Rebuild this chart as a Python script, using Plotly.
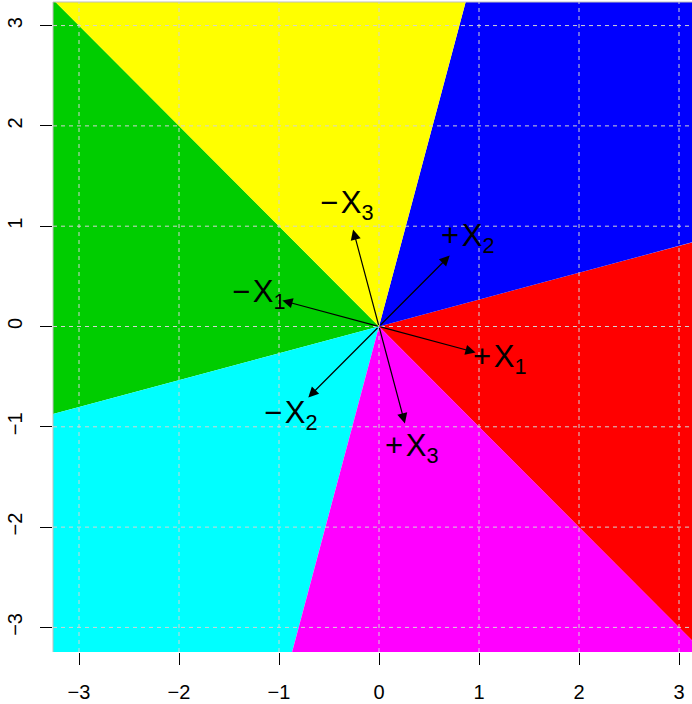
import numpy as np
import plotly.graph_objects as go

# Data: arrow directions (unit vectors) and labels
arrow_x = [0.966, -0.966, 0.707, -0.707, -0.259, 0.259]
arrow_y = [-0.259, 0.259, 0.707, -0.707, 0.966, -0.966]
arrow_labels = ["+\u200aX<sub>1</sub>", "−\u200aX<sub>1</sub>", "+\u200aX<sub>2</sub>",
                "−\u200aX<sub>2</sub>", "−\u200aX<sub>3</sub>", "+\u200aX<sub>3</sub>"]
sector_colors = ["#FF0000", "#00CD00", "#0000FF", "#00FFFF", "#FFFF00", "#FF00FF"]
label_scale = 1.25
sector_half_width_deg = 30
tick_vals = [-3, -2, -1, 0, 1, 2, 3]
tick_text = ["−3", "−2", "−1", "0", "1", "2", "3"]

x_range = [-3.26, 3.13]
y_range = [-3.245, 3.235]

fig = go.Figure()

# Sectors around each arrow direction
R = 50.0
for ax_, ay_, col in zip(arrow_x, arrow_y, sector_colors):
    ang = np.degrees(np.arctan2(ay_, ax_))
    angs = np.radians(np.linspace(ang - sector_half_width_deg, ang + sector_half_width_deg, 7))
    px = [0.0] + list(R * np.cos(angs)) + [0.0]
    py = [0.0] + list(R * np.sin(angs)) + [0.0]
    fig.add_trace(go.Scatter(x=px, y=py, mode="lines", fill="toself",
                             fillcolor=col, line=dict(width=0, color=col),
                             hoverinfo="skip", showlegend=False))

shapes = []
for v in tick_vals:
    shapes.append(dict(type="line", xref="x", yref="paper", x0=v, x1=v, y0=0, y1=1,
                       line=dict(color="#D3D3D3", width=1, dash="4px,4px"), layer="above"))
    shapes.append(dict(type="line", xref="paper", yref="y", x0=0, x1=1, y0=v, y1=v,
                       line=dict(color="#D3D3D3", width=1, dash="4px,4px"), layer="above"))
# light frame on left and top
shapes.append(dict(type="line", xref="paper", yref="paper", x0=0, x1=0, y0=0, y1=1,
                   line=dict(color="#BEBEBE", width=1), layer="above"))
shapes.append(dict(type="line", xref="paper", yref="paper", x0=0, x1=1, y0=1, y1=1,
                   line=dict(color="#BEBEBE", width=1), layer="above"))

annotations = []
for ax_, ay_, lab in zip(arrow_x, arrow_y, arrow_labels):
    annotations.append(dict(x=ax_, y=ay_, ax=0, ay=0, xref="x", yref="y", axref="x", ayref="y",
                            text="", showarrow=True, arrowhead=2, arrowsize=1.7,
                            arrowwidth=1.2, arrowcolor="black", standoff=0))
    annotations.append(dict(x=label_scale * ax_, y=label_scale * ay_, xref="x", yref="y",
                            text=lab, showarrow=False,
                            font=dict(family="Liberation Sans, Arial", size=31, color="black")))

tickfont = dict(family="Liberation Sans, Arial", size=20, color="black")
fig.update_layout(
    width=692, height=704,
    margin=dict(l=53, r=0, t=2, b=52),
    paper_bgcolor="white", plot_bgcolor="white",
    shapes=shapes, annotations=annotations,
    font=dict(family="Liberation Sans, Arial", size=20, color="black"),
    xaxis=dict(range=x_range, tickvals=tick_vals, ticktext=tick_text, showgrid=False,
               zeroline=False, showline=False, ticks="outside", ticklen=12, tickwidth=1,
               tickcolor="black", ticklabelstandoff=10, fixedrange=True, automargin=False,
               tickfont=tickfont),
    yaxis=dict(range=y_range, tickvals=tick_vals, ticktext=tick_text, showgrid=False,
               zeroline=False, showline=False, ticks="outside", ticklen=12, tickwidth=1,
               tickcolor="black", tickangle=-90, ticklabelstandoff=10, fixedrange=True,
               automargin=False, tickfont=tickfont),
)

fig.write_html("out.html", config={"displayModeBar": False},
               post_script="document.body.style.margin='0';document.body.style.overflow='hidden';")
